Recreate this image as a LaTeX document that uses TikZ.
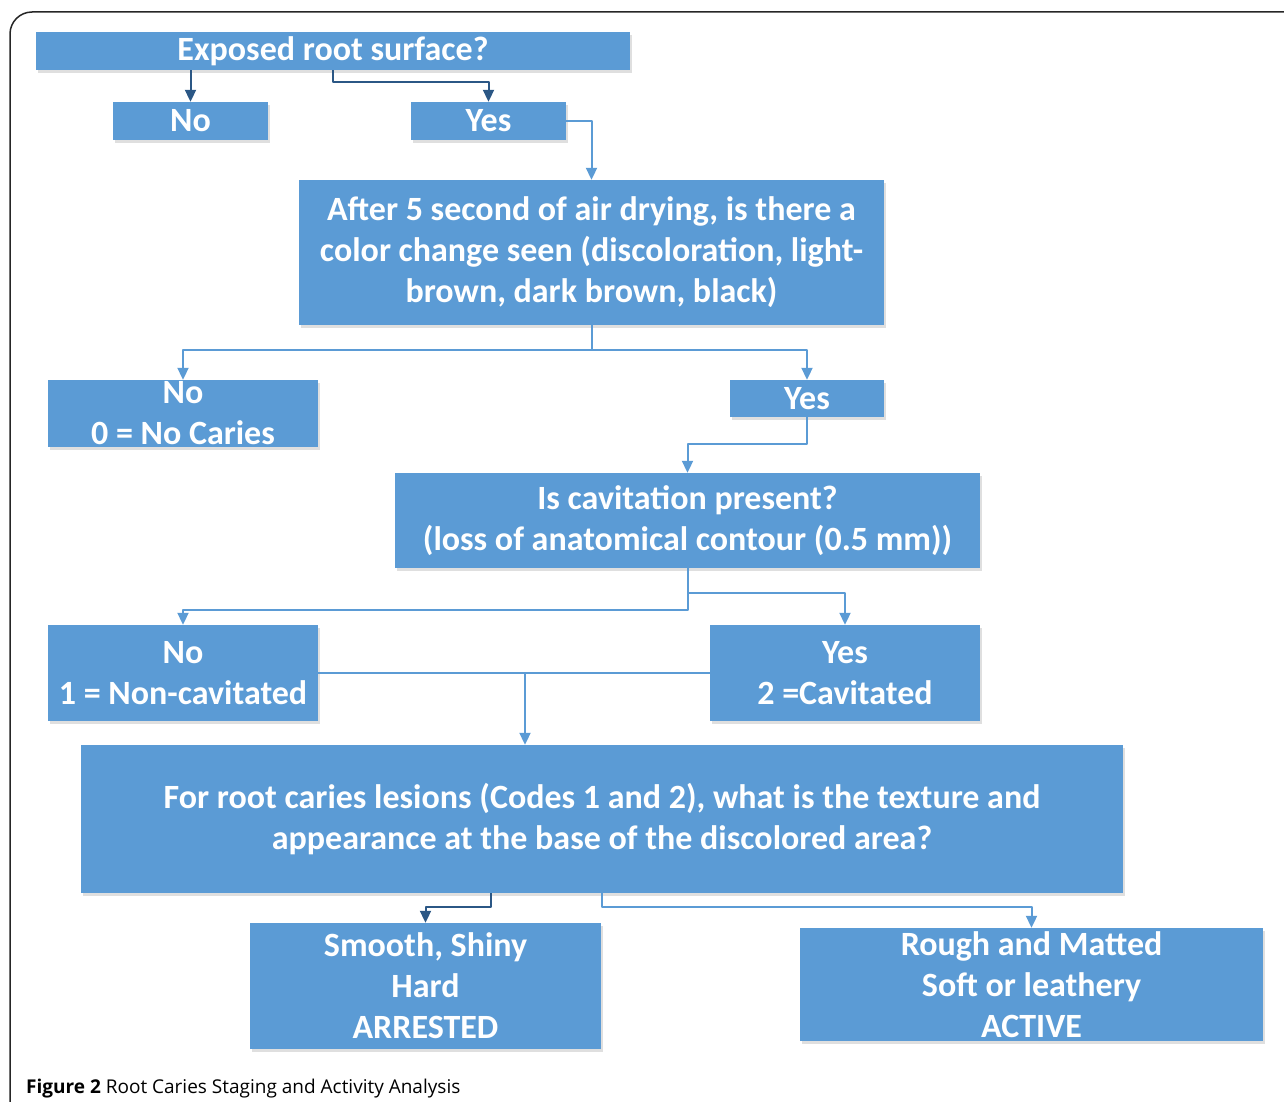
\documentclass[tikz,border=0pt]{standalone}
\usepackage{fontspec}
\setmainfont{Carlito}
\newfontfamily\capfont{Open Sans}
\usetikzlibrary{arrows.meta,shadows}
\definecolor{boxblue}{HTML}{5B9BD5}
\definecolor{darkblue}{HTML}{2B5785}
\begin{document}
\begin{tikzpicture}[x=1pt,y=-1pt,line join=round,>={Triangle[length=12pt,width=11pt]},
	box/.style={fill=boxblue,text=white,align=center,inner sep=0pt,font=\bfseries\fontsize{34}{41}\selectfont,
		drop shadow={shadow xshift=2pt,shadow yshift=-3pt,opacity=0.25}},
	line/.style={draw=boxblue,line width=2pt},
	darkline/.style={draw=darkblue,line width=2pt}]
	\useasboundingbox (0,0) rectangle (1284,1102);
	\draw[line width=1.5pt,rounded corners=22pt,black!85] (10,1110)--(10,12)--(1300,12);
	\node[box,minimum width=594pt,minimum height=38pt] (top) at (333,51) {Exposed root surface?};
	\node[box,minimum width=155pt,minimum height=38pt] (no) at (190.5,121) {No};
	\node[box,minimum width=155pt,minimum height=38pt] (yes) at (488.5,121) {Yes};
	\node[box,minimum width=585pt,minimum height=145pt] (q1) at (591.5,252.5) {After 5 second of air drying, is there a\\color change seen (discoloration, light-\\brown, dark brown, black)};
	\node[box,minimum width=270pt,minimum height=67pt] (no1) at (183,413.5) {No\\0 = No Caries};
	\node[box,minimum width=154pt,minimum height=37pt] (yes1) at (807,398.5) {Yes};
	\node[box,minimum width=585pt,minimum height=95pt] (q2) at (687.5,520.5) {Is cavitation present?\\(loss of anatomical contour (0.5 mm))};
	\node[box,minimum width=270pt,minimum height=96pt] (no2) at (183,673) {No\\1 = Non-cavitated};
	\node[box,minimum width=270pt,minimum height=96pt] (yes2) at (845,673) {Yes\\2 =Cavitated};
	\node[box,minimum width=1042pt,minimum height=148pt] (q3) at (602,819) {For root caries lesions (Codes 1 and 2), what is the texture and\\appearance at the base of the discolored area?};
	\node[box,minimum width=351pt,minimum height=126pt] (smooth) at (425.5,986) {Smooth, Shiny\\Hard\\ARRESTED};
	\node[box,minimum width=463pt,minimum height=113pt] (rough) at (1031.5,984.5) {Rough and Matted\\Soft or leathery\\ACTIVE};
	\draw[darkline,->] (no.north |- top.south)--(no.north);
	\draw[darkline,->] (top.south)--++(0,12)-|(yes.north);
	\draw[line,->] (yes.east)-|(q1.north);
	\draw[line,->] (q1.south)--++(0,25) coordinate (j1)-|(no1.north);
	\draw[line,->] (j1)-|(yes1.north);
	\draw[line,->] (yes1.south)--++(0,27)-|(q2.north);
	\draw[line,->] (q2.south)--++(0,42)-|(no2.north);
	\draw[line,->] (q2.south)++(0,25)-|(yes2.north);
	\draw[line] (no2.east)--(yes2.west);
	\coordinate (m) at (525,673);
	\draw[line,->] (m)--(m |- q3.north);
	\draw[darkline,->] ([xshift=-111pt]q3.south)--++(0,14)-|(smooth.north);
	\draw[line,->] (q3.south)--++(0,14)-|(rough.north);
	\node[anchor=base west,inner sep=0pt,font=\capfont\fontsize{19}{23}\selectfont] (cap) at (26,1093) {\textbf{Figure 2} Root Caries Staging and Activity Analysis};
\end{tikzpicture}
\end{document}
